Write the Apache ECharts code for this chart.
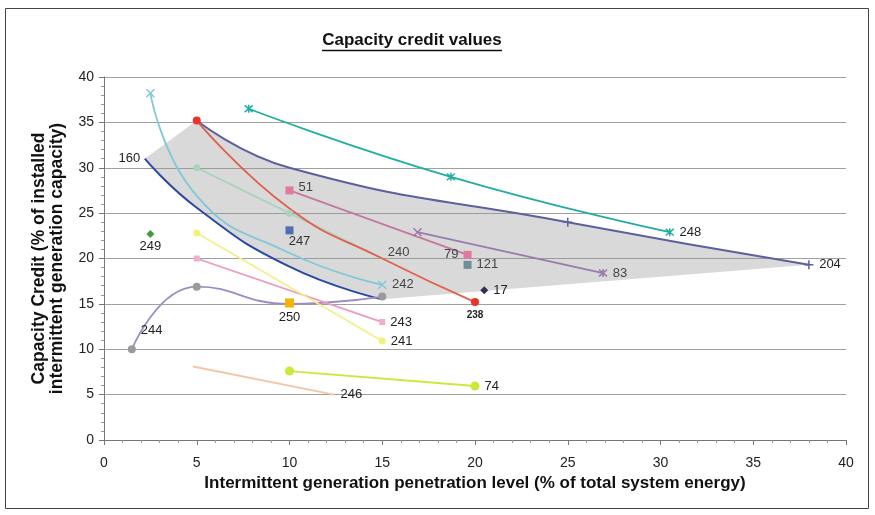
<!DOCTYPE html>
<html>
<head>
<meta charset="utf-8">
<script src="https://cdn.jsdelivr.net/npm/echarts@6/dist/echarts.min.js"></script>
<style>
  html, body { margin: 0; padding: 0; background: #fff; }
  #chart { width: 875px; height: 515px; }
</style>
</head>
<body>
<div id="chart"></div>
<script>
// Each study: [penetration level (% of total energy), capacity credit (% of installed capacity)]
const s248 = [[7.8, 36.5], [18.7, 29.0], [30.5, 22.9]];
const s204 = [[5, 35.2], [10, 30.0], [25, 24.0], [38, 19.3]];
const s238 = [[5, 35.2], [10, 25.5], [15, 20.0], [20, 15.2]];
const s242 = [[2.5, 38.2], [5, 26.9], [10, 20.6], [15, 17.1]];
const s160 = [[2.2, 31.0], [5, 25.6], [10, 19.1], [15, 15.5]];
const s240 = [[5, 30.0], [10, 25.0], [15, 20.0]];
const s244 = [[1.5, 10.0], [5, 16.9], [10, 15.0], [15, 15.8]];
const s243 = [[5, 20.0], [15, 13.0]];
const s241 = [[5, 22.8], [15, 10.9]];
const s74  = [[10, 7.6], [20, 5.95]];
const s246 = [[4.8, 8.1], [12.4, 5.0]];
const s51  = [[10, 27.5], [19.6, 20.4]];
const s83  = [[16.9, 22.9], [26.9, 18.4]];
const p79  = [[19.6, 20.4]];
const p121 = [[19.6, 19.3]];
const p247 = [[10, 23.1]];
const p249 = [[2.5, 22.7]];
const p250 = [[10, 15.1]];
const p17  = [[20.5, 16.5]];

// Axis ranges / tick spacing
const xRange = [0, 40];
const yRange = [0, 40];
const tickStep = 5;

const FONT = '"Liberation Sans", Arial, sans-serif';
const SYM_X = 'path://M0,0L10,10M10,0L0,10';
const SYM_AST = 'path://M0,0L10,10M10,0L0,10M5,-1L5,11';
const SYM_PLUS = 'path://M5,0L5,10M0,5L10,5';
const strokeSymbols = [SYM_X, SYM_AST, SYM_PLUS];

// Same control-point rule as the line series' smoothing, sampled into a polyline
function smoothSample(pts, smooth) {
  const out = [pts[0]];
  let cp0 = pts[0].slice();
  for (let i = 1; i < pts.length; i++) {
    const x = pts[i][0], y = pts[i][1];
    const px = pts[i - 1][0], py = pts[i - 1][1];
    let cp1, nextCp0 = null;
    if (i === pts.length - 1) {
      cp1 = [x, y];
    } else {
      const nx = pts[i + 1][0], ny = pts[i + 1][1];
      let vx = nx - px, vy = ny - py;
      const lenPrev = Math.hypot(x - px, y - py);
      const lenNext = Math.hypot(nx - x, ny - y);
      const ratio = lenNext / (lenNext + lenPrev);
      let ncx = x + vx * smooth * ratio, ncy = y + vy * smooth * ratio;
      ncx = Math.min(ncx, Math.max(nx, x)); ncy = Math.min(ncy, Math.max(ny, y));
      ncx = Math.max(ncx, Math.min(nx, x)); ncy = Math.max(ncy, Math.min(ny, y));
      vx = ncx - x; vy = ncy - y;
      let c1x = x - vx * lenPrev / lenNext, c1y = y - vy * lenPrev / lenNext;
      c1x = Math.min(c1x, Math.max(px, x)); c1y = Math.min(c1y, Math.max(py, y));
      c1x = Math.max(c1x, Math.min(px, x)); c1y = Math.max(c1y, Math.min(py, y));
      vx = x - c1x; vy = y - c1y;
      ncx = x + vx * lenNext / lenPrev; ncy = y + vy * lenNext / lenPrev;
      cp1 = [c1x, c1y];
      nextCp0 = [ncx, ncy];
    }
    const N = 20;
    for (let k = 1; k <= N; k++) {
      const t = k / N, u = 1 - t;
      const bx = u * u * u * px + 3 * u * u * t * cp0[0] + 3 * u * t * t * cp1[0] + t * t * t * x;
      const by = u * u * u * py + 3 * u * u * t * cp0[1] + 3 * u * t * t * cp1[1] + t * t * t * y;
      out.push([bx, by]);
    }
    cp0 = nextCp0;
  }
  return out;
}

function makeSeries(name, pts, o) {
  const isStroke = strokeSymbols.indexOf(o.symbol) >= 0;
  const symColor = o.symbolColor || o.color;
  const data = pts.map((p, i) => {
    const item = { value: p };
    const showSym = o.symbolAt ? o.symbolAt.indexOf(i) >= 0 : true;
    if (!showSym) {
      // keep the point (so a label can sit on it) but draw no marker
      item.symbol = 'circle';
      item.symbolSize = 1;
      item.itemStyle = { color: 'rgba(0,0,0,0)', borderColor: 'rgba(0,0,0,0)', borderWidth: 0 };
    }
    if (o.symbolOverride && o.symbolOverride[i]) item.symbol = o.symbolOverride[i];
    if (i === (o.labelIdx || 0) && o.label !== false) {
      item.label = {
        show: true,
        formatter: name,
        position: o.labelPos || 'right',
        distance: o.labelDist != null ? o.labelDist : 5,
        offset: o.labelOffset || [0, 0],
        color: o.labelColor || '#222',
        fontSize: o.labelSize || 13,
        fontWeight: o.labelWeight || 'normal',
        fontFamily: FONT
      };
    }
    return item;
  });
  return {
    name: name,
    type: 'line',
    data: data,
    smooth: o.smooth || false,
    symbol: o.symbol || 'circle',
    symbolSize: o.symbolSize || 7,
    showSymbol: true,
    z: o.z || 3,
    lineStyle: o.noLine ? { width: 0, opacity: 0 } : { color: o.color, width: o.width || 1.8 },
    itemStyle: isStroke
      ? { color: 'rgba(0,0,0,0)', borderColor: symColor, borderWidth: 1.5 }
      : { color: symColor, borderWidth: 0 },
    emphasis: { disabled: true },
    animation: false
  };
}

const series = [
  // Shaded envelope between the 204 and 160 curves
  {
    type: 'custom',
    z: 1,
    silent: true,
    animation: false,
    data: [[0, 0]],
    renderItem: function (params, api) {
      const upper = smoothSample(s204.map(p => api.coord(p)), 0.5);
      const lower = smoothSample(s160.slice().reverse().map(p => api.coord(p)), 0.5);
      return {
        type: 'polygon',
        shape: { points: upper.concat(lower) },
        style: { fill: 'rgba(150,150,150,0.36)' }
      };
    }
  },
  makeSeries('248', s248, { color: '#1fae9f', smooth: true, symbol: SYM_AST, symbolSize: 8, labelIdx: 2 }),
  makeSeries('204', s204, { color: '#5d5f9e', width: 2, smooth: true, symbol: SYM_PLUS, symbolSize: 9, symbolAt: [2, 3], labelIdx: 3 }),
  makeSeries('242', s242, { color: '#80c8da', smooth: true, symbol: SYM_X, symbolSize: 8, symbolAt: [0, 3], labelIdx: 3, labelColor: '#444' }),
  makeSeries('160', s160, { color: '#2a4aa2', width: 2, smooth: true, symbolAt: [], labelIdx: 0, labelPos: 'left', labelDist: 4 }),
  makeSeries('240', s240, { color: '#a9d3bb', symbolSize: 7, symbolAt: [0, 1], labelIdx: 2, labelOffset: [0, -6], labelColor: '#444' }),
  makeSeries('238', s238, { color: '#e0604c', smooth: true, symbolColor: '#e8322a', symbolSize: 8, symbolAt: [0, 3], labelIdx: 3, labelPos: 'bottom', labelSize: 10, labelWeight: 'bold', labelDist: 4 }),
  makeSeries('244', s244, { color: '#9d8cc4', smooth: true, symbolColor: '#9a9a9a', symbolSize: 8, symbolAt: [0, 1, 3], labelIdx: 0, labelOffset: [0, -19] }),
  makeSeries('243', s243, { color: '#ec9ac0', symbolColor: '#f0b0cc', symbol: 'rect', symbolSize: 6, labelIdx: 1 }),
  makeSeries('241', s241, { color: '#f2f08a', symbolColor: '#f4f07a', symbolSize: 7, labelIdx: 1 }),
  makeSeries('74', s74, { color: '#cce83a', symbolSize: 9, labelIdx: 1 }),
  makeSeries('246', s246, { color: '#f2c7a8', symbolSize: 5, symbolAt: [], labelIdx: 1, labelDist: 6 }),
  makeSeries('51', s51, { color: '#c4789e', symbolColor: '#e07a9c', symbol: 'rect', symbolSize: 8, symbolAt: [0], labelIdx: 0, labelOffset: [0, -3], labelColor: '#444' }),
  makeSeries('83', s83, { color: '#9a7aab', symbol: SYM_X, symbolSize: 8, symbolOverride: { 1: SYM_AST }, labelIdx: 1, labelColor: '#444' }),
  makeSeries('79', p79, { color: '#e07a9c', noLine: true, symbol: 'rect', symbolSize: 8, labelPos: 'left', labelColor: '#444' }),
  makeSeries('121', p121, { color: '#6f8f9c', noLine: true, symbol: 'rect', symbolSize: 8, labelColor: '#444' }),
  makeSeries('247', p247, { color: '#4f6fb0', noLine: true, symbol: 'rect', symbolSize: 8, labelPos: 'bottom', labelOffset: [10, -4], labelColor: '#333' }),
  makeSeries('249', p249, { color: '#3f9c3f', noLine: true, symbol: 'diamond', symbolSize: 8, labelPos: 'bottom', labelDist: 2 }),
  makeSeries('250', p250, { color: '#f5b400', noLine: true, symbol: 'rect', symbolSize: 9, labelPos: 'bottom', labelDist: 3 }),
  makeSeries('17', p17, { color: '#2f3350', noLine: true, symbol: 'diamond', symbolSize: 8 })
];

const chart = echarts.init(document.getElementById('chart'), null, { renderer: 'canvas' });
chart.setOption({
  backgroundColor: '#ffffff',
  animation: false,
  textStyle: { fontFamily: FONT },
  grid: { left: 104, right: 29, top: 77, bottom: 75, containLabel: false },
  xAxis: {
    type: 'value',
    min: xRange[0], max: xRange[1], interval: tickStep,
    name: 'Intermittent generation penetration level (% of total system energy)',
    nameLocation: 'middle',
    nameGap: 35,
    nameTextStyle: { fontSize: 17, fontWeight: 'bold', color: '#111', fontFamily: FONT },
    axisLine: { show: true, lineStyle: { color: '#777', width: 1 } },
    axisTick: { show: true, length: 5, lineStyle: { color: '#777' } },
    minorTick: { show: true, splitNumber: 5, length: 3, lineStyle: { color: '#999' } },
    axisLabel: { fontSize: 14, color: '#222', margin: 16, fontFamily: FONT },
    splitLine: { show: false }
  },
  yAxis: {
    type: 'value',
    min: yRange[0], max: yRange[1], interval: tickStep,
    name: 'Capacity Credit (% of installed\nintermittent generation capacity)',
    nameLocation: 'middle',
    nameRotate: 90,
    nameGap: 38,
    nameTextStyle: { fontSize: 17.5, fontWeight: 'bold', color: '#111', lineHeight: 18, fontFamily: FONT },
    axisLine: { show: true, lineStyle: { color: '#777', width: 1 } },
    axisTick: { show: true, length: 5, lineStyle: { color: '#777' } },
    minorTick: { show: true, splitNumber: 5, length: 3, lineStyle: { color: '#999' } },
    axisLabel: { fontSize: 14, color: '#222', margin: 10, fontFamily: FONT },
    splitLine: { show: true, lineStyle: { color: '#a0a0a0', width: 1 } }
  },
  graphic: [
    {
      type: 'rect', silent: true, z: 0,
      shape: { x: 5.5, y: 8.5, width: 863, height: 500 },
      style: { fill: 'none', stroke: '#444', lineWidth: 1 }
    },
    {
      type: 'text', silent: true, x: 412, y: 40,
      style: {
        text: 'Capacity credit values',
        font: 'bold 17px "Liberation Sans", Arial, sans-serif',
        fill: '#111', textAlign: 'center', textVerticalAlign: 'middle'
      }
    },
    {
      type: 'line', silent: true,
      shape: { x1: 322, y1: 50.5, x2: 502, y2: 50.5 },
      style: { stroke: '#111', lineWidth: 1.3 }
    }
  ],
  series: series
});
</script>
</body>
</html>
